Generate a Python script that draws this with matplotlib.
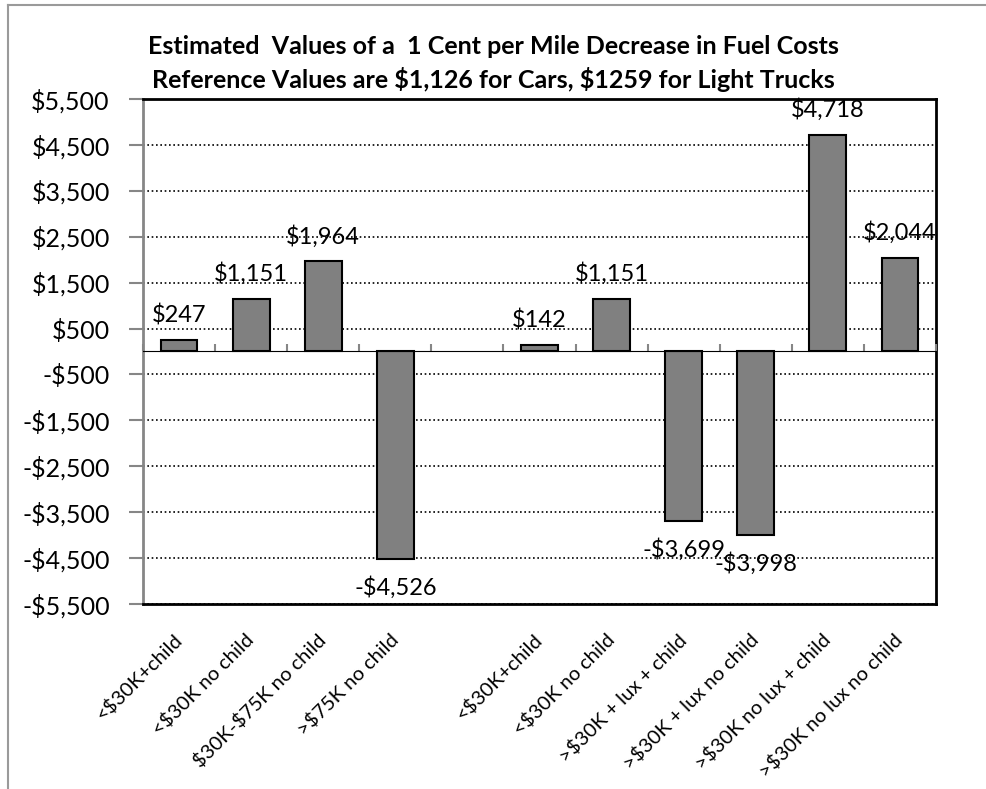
import matplotlib
matplotlib.use("Agg")
import matplotlib.pyplot as plt
from matplotlib.lines import Line2D
from matplotlib.ticker import FuncFormatter
import numpy as np

# categories (blank slot separates cars from light trucks)
categories = ["<$30K+child", "<$30K no child", "$30K-$75K no child", ">$75K no child", "",
              "<$30K+child", "<$30K no child", ">$30K + lux + child", ">$30K + lux no child",
              ">$30K no lux + child", ">$30K no lux no child"]
values = [247, 1151, 1964, -4526, None, 142, 1151, -3699, -3998, 4718, 2044]
yticks = list(range(-5500, 5501, 1000))
title1 = "Estimated  Values of a  1 Cent per Mile Decrease in Fuel Costs"
title2 = "Reference Values are $1,126 for Cars, $1259 for Light Trucks"

plt.rcParams["font.family"] = ["Lato", "DejaVu Sans"]


def money(v):
    return f"${v:,.0f}" if v >= 0 else f"-${-v:,.0f}"


fig = plt.figure(figsize=(9.87, 7.89), dpi=100)
ax = fig.add_axes([0.1449, 0.2345, 0.8034, 0.64])

x = np.arange(len(categories))
bx = [i for i, v in zip(x, values) if v is not None]
bv = [v for v in values if v is not None]
ax.bar(bx, bv, width=0.51, color="#808080", edgecolor="black", linewidth=1.5, zorder=3)

for i, v in zip(bx, bv):
    if v >= 0:
        ax.annotate(money(v), (i, v), xytext=(0, 10), textcoords="offset points",
                    ha="center", va="bottom", fontsize=17, zorder=4, parse_math=False)
    else:
        ax.annotate(money(v), (i, v), xytext=(0, -12), textcoords="offset points",
                    ha="center", va="top", fontsize=17, zorder=4, parse_math=False)

ax.set_xlim(-0.5, len(categories) - 0.5)
ax.set_ylim(yticks[0], yticks[-1])
ax.set_yticks(yticks)
ax.yaxis.set_major_formatter(FuncFormatter(lambda v, p: money(v)))
ax.tick_params(axis="y", labelsize=18, length=10, width=1.5, color="#868686", pad=14)
ax.grid(axis="y", linestyle=(0, (1, 1.6)), color="black", linewidth=1.2, zorder=1)

ax.set_xticks(x)
ax.set_xticklabels(categories, rotation=45, ha="right", va="center",
                   rotation_mode="anchor", fontsize=14.5)
for t in ax.get_xticklabels():
    t.set_parse_math(False)
ax.tick_params(axis="x", length=0, pad=24)

for s in ["top", "right", "bottom"]:
    ax.spines[s].set_color("black")
    ax.spines[s].set_linewidth(2)
ax.spines["left"].set_color("#868686")
ax.spines["left"].set_linewidth(2)

# category axis drawn at zero with boundary tick marks
zero_frac = (0 - yticks[0]) / (yticks[-1] - yticks[0])
sec = ax.secondary_xaxis(zero_frac)
sec.set_xticks(np.arange(len(categories) + 1) - 0.5)
sec.set_xticklabels([])
sec.tick_params(axis="x", length=5, width=1.5, color="#868686", direction="out")
sec.spines["bottom"].set_color("#868686")
sec.spines["bottom"].set_linewidth(2)
sec.set_zorder(3.5)

fig.text(0.50, 1 - 47 / 789, title1, ha="center", va="center", fontsize=18,
         fontweight="bold", parse_math=False)
fig.text(0.50, 1 - 80 / 789, title2, ha="center", va="center", fontsize=18,
         fontweight="bold", parse_math=False)

# chart area frame
fig.add_artist(Line2D([8 / 987, 8 / 987], [0, 1 - 5 / 789], color="#9a9a9a", linewidth=1.5))
fig.add_artist(Line2D([8 / 987, 1], [1 - 5 / 789, 1 - 5 / 789], color="#9a9a9a", linewidth=1.5))

fig.savefig("out.png", dpi=100)
